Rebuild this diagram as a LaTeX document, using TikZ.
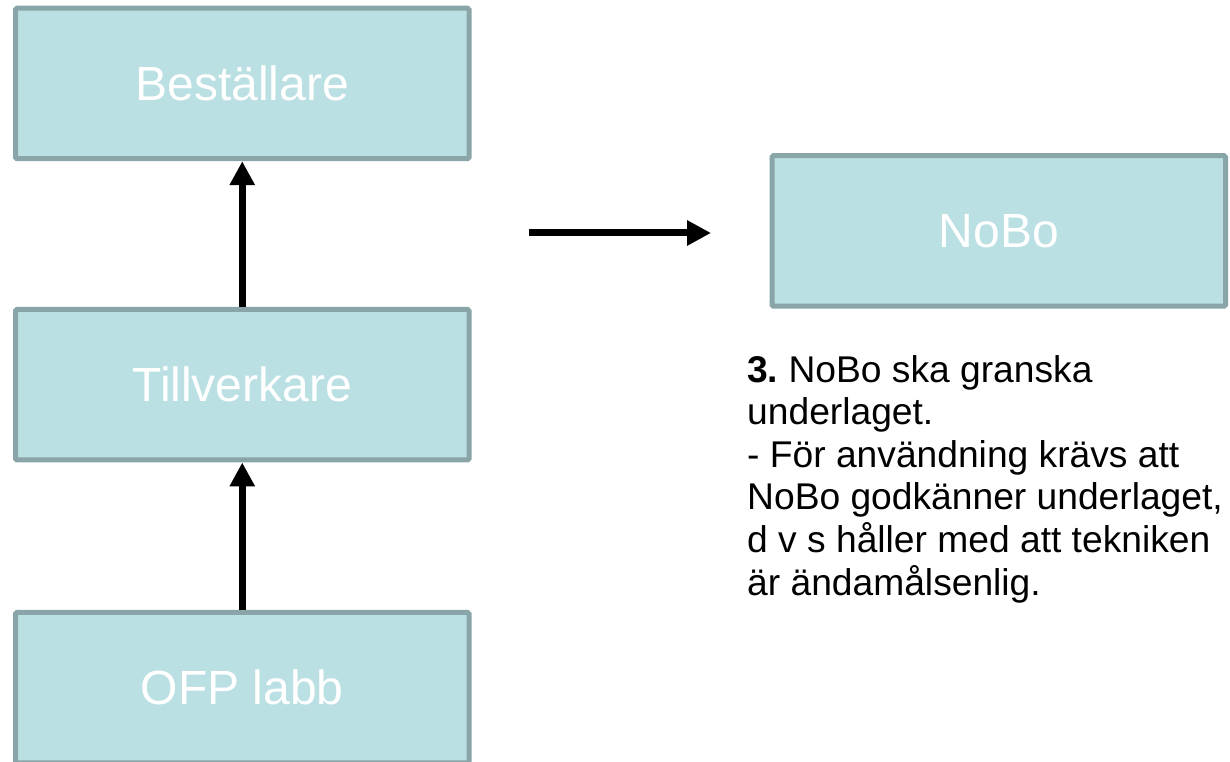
\documentclass[tikz,border=0pt]{standalone}
\usepackage{fontspec}
\setmainfont{Liberation Sans}
\usetikzlibrary{arrows.meta}
\definecolor{boxfill}{HTML}{BBE0E3}
\definecolor{boxline}{HTML}{8AA5A7}
\frenchspacing
\begin{document}
\begin{tikzpicture}[x=1pt,y=1pt,
  box/.style={draw=boxline, fill=boxfill, line width=5pt, rounded corners=1.5pt,
    minimum width=453.5pt, minimum height=150.5pt, inner sep=0pt, text=white,
    font=\fontsize{48}{56}\selectfont},
  arr/.style={line width=7pt, -{Triangle[length=24pt,width=24pt]}},
  note/.style={anchor=north west, inner sep=0pt, align=left,
    font=\fontsize{37.2}{42.6}\selectfont}]
\useasboundingbox (0,0) rectangle (1230,762);
\node[box] (best) at (242.25,678.5) {Beställare};
\node[box] (till) at (242.25,377.25) {Tillverkare};
\node[box] (ofp)  at (242.25,74.25) {OFP labb};
\node[box] (nobo) at (998.75,531) {NoBo};
\draw[arr] (till.north) -- (best.south);
\draw[arr] (ofp.north) -- (till.south);
\coordinate (hs) at (529,529);
\coordinate (he) at (711,529);
\draw[arr] (hs) -- (he);
\node[note] (txt) at (747,407) {\textbf{3.} NoBo ska granska\\underlaget.\\- För användning krävs att\\NoBo godkänner underlaget,\\d v s håller med att tekniken\\är ändamålsenlig.};
\end{tikzpicture}
\end{document}
